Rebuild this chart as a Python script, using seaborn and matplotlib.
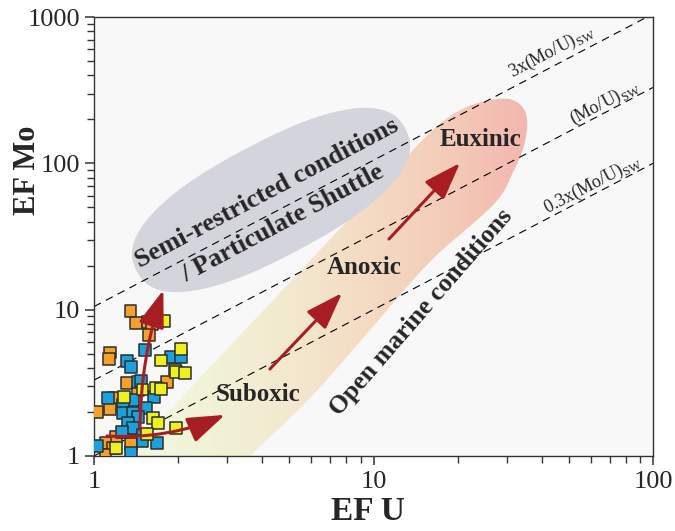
import numpy as np
import pandas as pd
import matplotlib
matplotlib.use("Agg")
import matplotlib.pyplot as plt
import seaborn as sns
from matplotlib import ticker
from matplotlib.patches import Polygon, FancyArrowPatch, ArrowStyle
from matplotlib.colors import LinearSegmentedColormap

# EF U / EF Mo for the three sample groups
orange_u = [1.35, 1.41, 1.56, 1.61, 1.57, 1.14, 1.13, 1.83, 1.31, 1.44, 1.19, 1.03, 1.14, 1.20, 1.40, 1.10, 1.36, 1.17, 1.10]
orange_mo = [9.8, 8.1, 8.2, 8.0, 6.7, 5.1, 4.6, 3.2, 3.15, 2.8, 2.5, 2.0, 2.1, 1.35, 1.29, 1.23, 1.21, 1.13, 1.02]

blue_u = [1.52, 1.31, 1.36, 1.89, 2.05, 1.43, 1.47, 1.64, 1.12, 1.38, 1.27, 1.27, 1.38, 1.54, 1.44, 1.32, 1.38, 1.26, 1.49, 1.49, 1.68, 1.03, 1.36]
blue_mo = [5.3, 4.46, 4.06, 4.75, 4.75, 3.2, 3.25, 2.53, 2.49, 2.41, 2.23, 1.97, 1.97, 2.13, 1.85, 1.68, 1.55, 1.46, 1.39, 1.27, 1.23, 1.17, 1.05]

yellow_u = [1.78, 1.74, 2.05, 1.95, 1.97, 2.12, 1.49, 1.67, 1.74, 1.28, 1.63, 1.69, 1.55, 1.97, 1.20]
yellow_mo = [8.4, 4.5, 5.4, 3.9, 3.75, 3.7, 2.85, 2.9, 2.87, 2.53, 1.82, 1.68, 1.41, 1.55, 1.13]

group_colors = {"orange": "#f6a02c", "blue": "#1ba2dc", "yellow": "#eef01f"}

# seawater Mo/U reference lines, EF Mo = k * EF U
sw_factor = [1.0, 3.3, 10.5]
sw_labels = [r"0.3x(Mo/U)$_{\mathrm{SW}}$", r"(Mo/U)$_{\mathrm{SW}}$", r"3x(Mo/U)$_{\mathrm{SW}}$"]
sw_label_u = [61.0, 67.0, 43.5]
sw_label_mo = [72.0, 259.0, 577.0]

# suboxic -> euxinic field outline (EF U, EF Mo)
band_u = [1.03, 1.24, 1.59, 1.95, 2.39, 3.93, 6.44, 10.55, 16.3, 21.6, 28.4, 32.9, 35.4, 34.6,
          31.6, 26.8, 15.9, 9.71, 5.93, 3.61, 3.22, 0.968]
band_mo = [0.97, 1.15, 1.55, 2.23, 3.41, 9.35, 25.6, 70.1, 169, 243, 276, 259, 204, 134,
           87.4, 52.0, 21.2, 7.26, 2.49, 1.0, 0.78, 0.78]
band_colors = ["#f4f9e6", "#f1f4d8", "#f3ead0", "#f4dcc3", "#f4cdb9", "#f3b9af", "#f2b0a8"]
band_stops = [0.0, 0.18, 0.33, 0.48, 0.62, 0.76, 1.0]

# semi-restricted / particulate shuttle field (centre in data, size in px)
blob_center = (4.30, 56.2)
blob_half = (152, 57)
blob_angle = 28

# trend arrows: start, end, curvature
arrow_u0 = [1.113, 1.46, 4.26, 11.36]
arrow_mo0 = [1.37, 1.51, 3.93, 30.4]
arrow_u1 = [2.94, 1.77, 7.72, 20.4]
arrow_mo1 = [1.91, 13.6, 13.0, 100.6]
arrow_rad = [0.12, -0.08, 0.0, 0.0]

sns.set_style("ticks")
plt.rcParams["font.family"] = ["Liberation Serif", "DejaVu Serif"]
plt.rcParams["mathtext.fontset"] = "custom"
plt.rcParams["mathtext.rm"] = "Liberation Serif"


def smooth_closed(pts, n=16):
    out = []
    m = len(pts)
    for i in range(m):
        p0, p1, p2, p3 = pts[i - 1], pts[i], pts[(i + 1) % m], pts[(i + 2) % m]
        for t in np.linspace(0, 1, n, endpoint=False):
            out.append(0.5 * (2 * p1 + (p2 - p0) * t + (2 * p0 - 5 * p1 + 4 * p2 - p3) * t ** 2
                              + (-p0 + 3 * p1 - 3 * p2 + p3) * t ** 3))
    return np.array(out)


fig = plt.figure(figsize=(6.75, 5.31), dpi=100)
ax = fig.add_axes([94 / 675, 75 / 531, 559 / 675, 439 / 531])
ax.set_xscale("log")
ax.set_yscale("log")
ax.set_xlim(1, 100)
ax.set_ylim(1, 1000)
ax.set_autoscale_on(False)
ax.set_facecolor("#f8f8f8")

# gradient field
disp = ax.transData.transform(np.column_stack([band_u, band_mo]))
outline = ax.transData.inverted().transform(smooth_closed(disp))
band = Polygon(outline, closed=True, transform=ax.transData, facecolor="none", edgecolor="none")
ax.add_patch(band)
cmap = LinearSegmentedColormap.from_list("band", list(zip(band_stops, band_colors)))
grad = cmap(np.linspace(0, 1, 512))[None, :, :]
im = ax.imshow(grad, extent=(0, 1, 0, 1), transform=ax.transAxes, aspect="auto",
               interpolation="bilinear", zorder=1)
im.set_clip_path(band)

# grey field
t = np.linspace(0, 2 * np.pi, 300)
p = 2.4
ex = blob_half[0] * np.sign(np.cos(t)) * np.abs(np.cos(t)) ** (2 / p)
ey = blob_half[1] * np.sign(np.sin(t)) * np.abs(np.sin(t)) ** (2 / p)
th = np.radians(blob_angle)
cx, cy = ax.transData.transform(blob_center)
bx = cx + ex * np.cos(th) - ey * np.sin(th)
by = cy + ex * np.sin(th) + ey * np.cos(th)
blob = ax.transData.inverted().transform(np.column_stack([bx, by]))
ax.add_patch(Polygon(blob, closed=True, facecolor="#d4d5dc", edgecolor="none", zorder=1.5))

# reference lines
u_range = np.array([1.0, 100.0])
p1 = ax.transData.transform((1, 1))
p2 = ax.transData.transform((100, 100))
line_ang = np.degrees(np.arctan2(p2[1] - p1[1], p2[0] - p1[0]))
for k, lab, lu, lm in zip(sw_factor, sw_labels, sw_label_u, sw_label_mo):
    ax.plot(u_range, k * u_range, color="black", lw=0.8, ls=(0, (7, 5)), zorder=2)
    ax.text(lu, lm, lab, fontsize=13, rotation=line_ang, rotation_mode="anchor",
            ha="center", va="center", zorder=6)

# samples
df = pd.concat([
    pd.DataFrame({"EF U": orange_u, "EF Mo": orange_mo, "group": "orange"}),
    pd.DataFrame({"EF U": blue_u, "EF Mo": blue_mo, "group": "blue"}),
    pd.DataFrame({"EF U": yellow_u, "EF Mo": yellow_mo, "group": "yellow"}),
], ignore_index=True)
sns.scatterplot(data=df, x="EF U", y="EF Mo", hue="group", palette=group_colors, marker="s",
                s=72, edgecolor="#2d2d2d", linewidth=1.1, legend=False, ax=ax, zorder=4)

# arrows
head = ArrowStyle("-|>", head_length=1.15, head_width=0.4)
for u0, m0, u1, m1, r in zip(arrow_u0, arrow_mo0, arrow_u1, arrow_mo1, arrow_rad):
    ax.add_patch(FancyArrowPatch((u0, m0), (u1, m1), arrowstyle=head, mutation_scale=20,
                                 connectionstyle=f"arc3,rad={r}", color="#a81d22", lw=2.2,
                                 shrinkA=0, shrinkB=0, zorder=5))

# field labels
bold = dict(fontweight="bold", ha="center", va="center", rotation_mode="anchor", zorder=6)
ax.text(4.16, 62.8, "Semi-restricted conditions", fontsize=19, rotation=28, **bold)
ax.text(4.75, 39.1, "/ Particulate Shuttle", fontsize=19, rotation=28, **bold)
ax.text(9.25, 19.3, "Anoxic", fontsize=18, **bold)
ax.text(24.2, 144.5, "Euxinic", fontsize=18, **bold)
ax.text(3.86, 2.65, "Suboxic", fontsize=18, **bold)
ax.text(14.8, 9.65, "Open marine conditions", fontsize=18.5, rotation=49, **bold)

# axes
ax.set_xticks([1, 10, 100], labels=["1", "10", "100"])
ax.set_yticks([1, 10, 100, 1000], labels=["1", "10", "100", "1000"])
ax.xaxis.set_minor_locator(ticker.LogLocator(base=10, subs=np.arange(2, 10)))
ax.yaxis.set_minor_locator(ticker.LogLocator(base=10, subs=np.arange(2, 10)))
ax.xaxis.set_minor_formatter(ticker.NullFormatter())
ax.yaxis.set_minor_formatter(ticker.NullFormatter())
ax.tick_params(which="major", direction="out", length=6.5, width=1.1, color="#333333",
               labelsize=19, top=False, right=False)
ax.tick_params(axis="x", which="major", pad=4)
ax.tick_params(axis="y", which="major", pad=3.5)
ax.tick_params(which="minor", direction="out", length=5, width=1.0, color="#333333",
               top=False, right=False)
for s in ax.spines.values():
    s.set_linewidth(1.0)
    s.set_color("#333333")

ax.set_xlabel("EF U", fontsize=24, fontweight="bold")
ax.set_ylabel("EF Mo", fontsize=22, fontweight="bold")
ax.xaxis.set_label_coords(0.49, -0.092)
ax.yaxis.set_label_coords(-0.093, 0.651)

fig.savefig("out.png", dpi=100)
